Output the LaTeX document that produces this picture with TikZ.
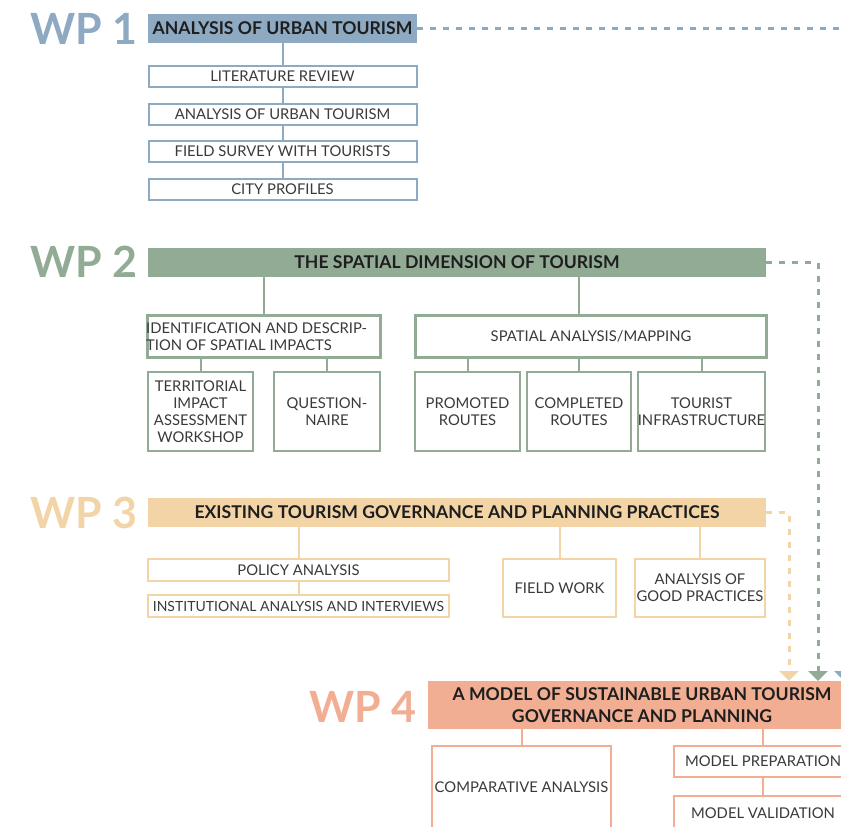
\documentclass[tikz,border=0pt]{standalone}
\usepackage{fontspec}
\setmainfont{Lato}
\usetikzlibrary{arrows.meta}
\definecolor{wpblue}{HTML}{8EA9C2}
\definecolor{wpgreen}{HTML}{92AB95}
\definecolor{wptan}{HTML}{F2D4A6}
\definecolor{wpsalmon}{HTML}{F2AE93}
\definecolor{ink}{HTML}{1E1E1E}
\definecolor{subink}{HTML}{3A3A3A}
\tikzset{
  wplabel/.style={anchor=west, inner sep=0pt, font=\fontsize{43}{43}\selectfont\bfseries},
  head/.style={fill=#1, draw=none, inner sep=0pt, align=center, text=ink,
    font=\fontsize{17.6}{21.5}\selectfont\bfseries},
  sub/.style={draw=#1, fill=white, line width=2pt, inner sep=0pt, align=center,
    text=subink, font=\fontsize{14.8}{17}\selectfont},
  bigsub/.style={sub=#1, line width=3pt},
  link/.style={draw=#1, line width=2pt},
  flow/.style={draw=#1, line width=3pt, dash pattern=on 6pt off 7pt,
    -{Triangle[width=19pt,length=10pt]}},
}
\begin{document}
\begin{tikzpicture}[x=1pt,y=-1pt]
\useasboundingbox (0,0) rectangle (841,827);
\clip (0,0) rectangle (841,827);

% ---------- WP 1 ----------
\node[wplabel, text=wpblue] (wp1) at (30,29) {WP 1};
\node[head=wpblue, minimum width=269, minimum height=29] (wp1h) at (282.5,28.5) {ANALYSIS OF URBAN TOURISM};
\node[sub=wpblue, minimum width=268, minimum height=21] (lit) at (282.5,76) {LITERATURE REVIEW};
\node[sub=wpblue, minimum width=268, minimum height=21] (aut) at (282.5,114) {ANALYSIS OF URBAN TOURISM};
\node[sub=wpblue, minimum width=268, minimum height=21] (fsv) at (282.5,151.5) {FIELD SURVEY WITH TOURISTS};
\node[sub=wpblue, minimum width=268, minimum height=21] (cpr) at (282.5,189.5) {CITY PROFILES};
\draw[link=wpblue] (wp1h.south) -- (lit.north);
\draw[link=wpblue] (lit.south) -- (aut.north);
\draw[link=wpblue] (aut.south) -- (fsv.north);
\draw[link=wpblue] (fsv.south) -- (cpr.north);

% ---------- WP 2 ----------
\node[wplabel, text=wpgreen] (wp2) at (30,262) {WP 2};
\node[head=wpgreen, minimum width=618, minimum height=29] (wp2h) at (457,262.5) {THE SPATIAL DIMENSION OF TOURISM};
\node[bigsub=wpgreen, minimum width=233, minimum height=42] (idn) at (264,336.5) {};
\node[text=subink, font=\fontsize{14.8}{17}\selectfont, anchor=west, align=left, inner sep=0pt] (idnt) at (146,336.5)
  {IDENTIFICATION AND DESCRIP-\\TION OF SPATIAL IMPACTS};
\node[bigsub=wpgreen, minimum width=351, minimum height=42] (spa) at (591,336.5) {SPATIAL ANALYSIS/MAPPING};
\node[sub=wpgreen, minimum width=105, minimum height=79] (ter) at (200.5,411.5) {TERRITORIAL\\IMPACT\\ASSESSMENT\\WORKSHOP};
\node[sub=wpgreen, minimum width=106, minimum height=79] (que) at (327,411.5) {QUESTION-\\NAIRE};
\node[sub=wpgreen, minimum width=105, minimum height=79] (pro) at (467.5,411.5) {PROMOTED\\ROUTES};
\node[sub=wpgreen, minimum width=104, minimum height=79] (cmp) at (579,411.5) {COMPLETED\\ROUTES};
\node[sub=wpgreen, minimum width=127, minimum height=79] (tin) at (701.5,411.5) {TOURIST\\INFRASTRUCTURE};
\draw[link=wpgreen] (wp2h.south -| idn) -- (idn.north);
\draw[link=wpgreen] (wp2h.south -| cmp) -- (spa.north -| cmp);
\draw[link=wpgreen] (idn.south -| ter) -- (ter.north);
\draw[link=wpgreen] (idn.south -| que) -- (que.north);
\draw[link=wpgreen] (spa.south -| pro) -- (pro.north);
\draw[link=wpgreen] (spa.south -| cmp) -- (cmp.north);
\draw[link=wpgreen] (spa.south -| tin) -- (tin.north);

% ---------- WP 3 ----------
\node[wplabel, text=wptan] (wp3) at (30,512.5) {WP 3};
\node[head=wptan, minimum width=618, minimum height=29] (wp3h) at (457,512.5) {EXISTING TOURISM GOVERNANCE AND PLANNING PRACTICES};
\node[sub=wptan, minimum width=301, minimum height=22] (pol) at (298.5,570) {POLICY ANALYSIS};
\node[sub=wptan, minimum width=301, minimum height=22, font=\fontsize{14}{17}\selectfont] (ins) at (298.5,606) {INSTITUTIONAL ANALYSIS AND INTERVIEWS};
\node[sub=wptan, minimum width=113, minimum height=58] (fwk) at (559.5,588) {FIELD WORK};
\node[sub=wptan, minimum width=130, minimum height=58] (gpr) at (700,588) {ANALYSIS OF\\GOOD PRACTICES};
\draw[link=wptan] (wp3h.south -| pol) -- (pol.north);
\draw[link=wptan] (pol.south) -- (ins.north);
\draw[link=wptan] (wp3h.south -| fwk) -- (fwk.north);
\draw[link=wptan] (wp3h.south -| gpr) -- (gpr.north);

% ---------- WP 4 ----------
\node[wplabel, text=wpsalmon] (wp4) at (309,707) {WP 4};
\node[head=wpsalmon, minimum width=428, minimum height=48] (wp4h) at (642,705)
  {A MODEL OF SUSTAINABLE URBAN TOURISM\\GOVERNANCE AND PLANNING};
\node[sub=wpsalmon, minimum width=179, minimum height=83] (cma) at (521.5,787.5) {COMPARATIVE ANALYSIS};
\node[sub=wpsalmon, minimum width=178, minimum height=31] (mpr) at (763,761.5) {MODEL PREPARATION};
\node[sub=wpsalmon, minimum width=178, minimum height=34] (mva) at (763,813) {MODEL VALIDATION};
\draw[link=wpsalmon] (wp4h.south -| cma) -- (cma.north);
\draw[link=wpsalmon] (wp4h.south -| mpr) -- (mpr.north);
\draw[link=wpsalmon] (mpr.south) -- (mva.north);

% ---------- flows into WP 4 ----------
\coordinate (t4) at (789,681);
\coordinate (g4) at (818,681);
\coordinate (b4) at (844,681);
\draw[flow=wptan] (wp3h.east) -| (t4);
\draw[flow=wpgreen] (wp2h.east) -| (g4);
\draw[flow=wpblue] (wp1h.east) -| (b4);
\end{tikzpicture}
\end{document}
